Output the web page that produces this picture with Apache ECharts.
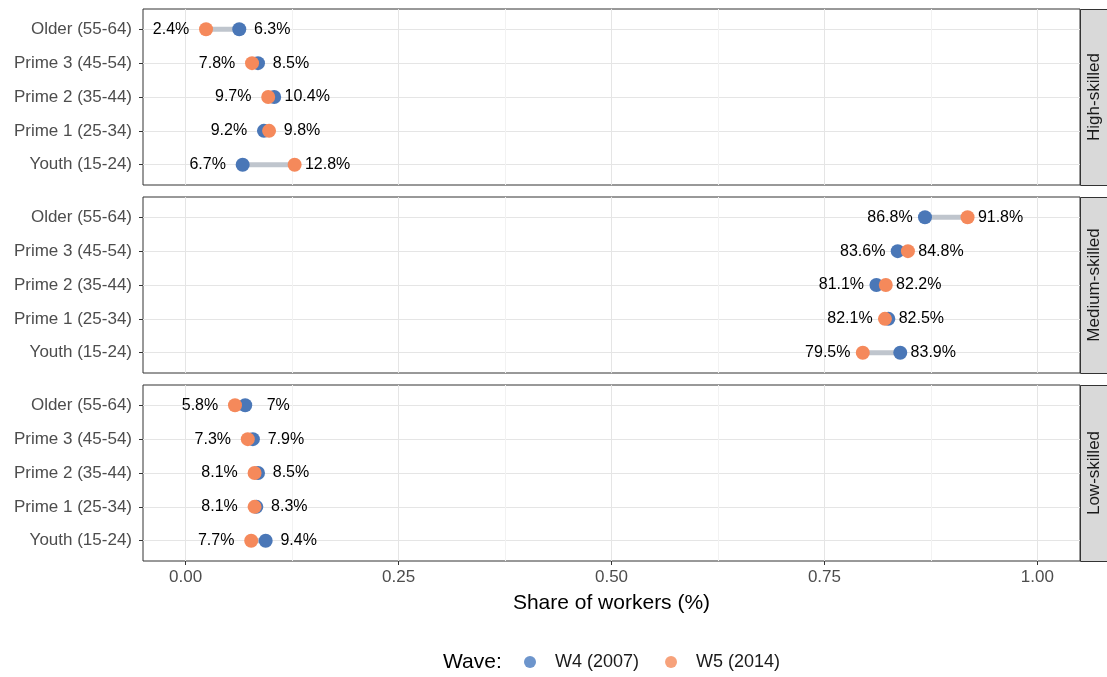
<!DOCTYPE html>
<html>
<head>
<meta charset="utf-8">
<script src="https://cdn.jsdelivr.net/npm/echarts@6/dist/echarts.min.js"></script>
<style>
  html, body { margin: 0; padding: 0; background: #fff; }
  #chart { width: 1107px; height: 677px; }
</style>
</head>
<body>
<div id="chart"></div>
<script>
// ---------- data ----------
const categories = ['Youth (15-24)', 'Prime 1 (25-34)', 'Prime 2 (35-44)', 'Prime 3 (45-54)', 'Older (55-64)'];
const skills = ['High-skilled', 'Medium-skilled', 'Low-skilled'];
const waveNames = ['W4 (2007)', 'W5 (2014)'];
const w4High = [0.067, 0.092, 0.104, 0.085, 0.063];
const w5High = [0.128, 0.098, 0.097, 0.078, 0.024];
const w4Medium = [0.839, 0.825, 0.811, 0.836, 0.868];
const w5Medium = [0.795, 0.821, 0.822, 0.848, 0.918];
const w4Low = [0.094, 0.083, 0.085, 0.079, 0.070];
const w5Low = [0.077, 0.081, 0.081, 0.073, 0.058];
const xTicks = [0, 0.25, 0.5, 0.75, 1];
const xMinorTicks = [0.125, 0.375, 0.625, 0.875];
const xTitle = 'Share of workers (%)';
const legendTitle = 'Wave:';

// ---------- layout / style ----------
const FONT = '"Liberation Sans", Arial, sans-serif';
const panelLeft = 143, panelWidth = 937, panelHeight = 176;
const panelTops = [9, 197, 385];
const stripWidth = 30;
const blue = '#4a77b7', orange = '#f5895b';
const blueLegend = '#6d95cc', orangeLegend = '#f7a27b';
const rowVals = categories.map((c, i) => i + 1);
const panelsW4 = [w4High, w4Medium, w4Low];
const panelsW5 = [w5High, w5Medium, w5Low];

function pct(v) { return (+(v * 100).toFixed(1)) + '%'; }

const grids = [], xAxes = [], yAxes = [], series = [], graphics = [];

skills.forEach((skill, p) => {
  const isBottom = p === skills.length - 1;
  grids.push({
    left: panelLeft, width: panelWidth, top: panelTops[p], height: panelHeight,
    show: true, backgroundColor: '#fff', borderColor: '#333333', borderWidth: 1, containLabel: false
  });
  // major x axis
  xAxes.push({
    gridIndex: p, type: 'value', min: -0.05, max: 1.05, position: 'bottom',
    axisLine: { show: false, onZero: false },
    axisTick: { show: isBottom, customValues: xTicks, length: 4, lineStyle: { color: '#333333' } },
    axisLabel: { show: isBottom, customValues: xTicks, margin: 8, color: '#4d4d4d', fontSize: 17, fontFamily: FONT,
      formatter: v => v.toFixed(2) },
    splitLine: { show: true, lineStyle: { color: '#e5e5e5', width: 1 } },
    name: isBottom ? xTitle : '', nameLocation: 'middle', nameGap: 32,
    nameTextStyle: { color: '#000', fontSize: 21, fontFamily: FONT }
  });
  // minor x axis (grid lines only)
  xAxes.push({
    gridIndex: p, type: 'value', min: -0.05, max: 1.05, position: 'top',
    axisLine: { show: false, onZero: false },
    axisTick: { show: false, customValues: xMinorTicks },
    axisLabel: { show: false, customValues: xMinorTicks },
    splitLine: { show: true, lineStyle: { color: '#f2f2f2', width: 1 } }
  });
  yAxes.push({
    gridIndex: p, type: 'value', min: 0.4, max: 5.6, position: 'left',
    axisLine: { show: false, onZero: false },
    axisTick: { show: true, customValues: rowVals, length: 4, lineStyle: { color: '#333333' } },
    axisLabel: { show: true, customValues: rowVals, margin: 11, color: '#4d4d4d', fontSize: 17, fontFamily: FONT,
      formatter: v => categories[Math.round(v) - 1] || '' },
    splitLine: { show: true, lineStyle: { color: '#e5e5e5', width: 1 } }
  });

  const w4 = panelsW4[p], w5 = panelsW5[p];
  const xi = p * 2;
  // connecting segments
  series.push({
    type: 'custom', xAxisIndex: xi, yAxisIndex: p, silent: true,
    encode: { x: [0, 1], y: 2 },
    data: categories.map((c, i) => [w4[i], w5[i], rowVals[i]]),
    renderItem: (params, api) => {
      const a = api.coord([api.value(0), api.value(2)]);
      const b = api.coord([api.value(1), api.value(2)]);
      return { type: 'line', shape: { x1: a[0], y1: a[1], x2: b[0], y2: b[1] },
        style: { stroke: '#bfc5cd', lineWidth: 5 } };
    }
  });
  const mk = (vals, other, color, name) => ({
    type: 'scatter', name, xAxisIndex: xi, yAxisIndex: p, symbol: 'circle', symbolSize: 14,
    itemStyle: { color, opacity: 1 }, silent: true,
    label: { show: true, position: 'inside', formatter: d => pct(d.value[0]),
      color: '#000', fontSize: 16, fontFamily: FONT, align: 'center', verticalAlign: 'middle' },
    data: vals.map((v, i) => ({
      value: [v, rowVals[i]],
      label: { offset: [v <= other[i] ? -35 : 33, 0] }
    }))
  });
  series.push(mk(w4, w5, blue, waveNames[0]));
  series.push(mk(w5, w4, orange, waveNames[1]));

  // facet strip
  graphics.push({
    type: 'rect', left: panelLeft + panelWidth, top: panelTops[p], z: 10,
    shape: { width: stripWidth, height: panelHeight },
    style: { fill: '#d9d9d9', stroke: '#333333', lineWidth: 1 }
  });
  graphics.push({
    type: 'text', x: panelLeft + panelWidth + 14, y: panelTops[p] + panelHeight / 2, rotation: Math.PI / 2, z: 11,
    style: { text: skill, x: 0, y: 0, align: 'center', verticalAlign: 'middle', fill: '#1a1a1a', fontSize: 17, fontFamily: FONT }
  });
});

graphics.push({
  type: 'text', left: 443, top: 652, z: 11,
  style: { text: legendTitle, fill: '#000', fontSize: 21, fontFamily: FONT }
});

const option = {
  animation: false,
  backgroundColor: '#fff',
  grid: grids,
  xAxis: xAxes,
  yAxis: yAxes,
  legend: {
    left: 524, top: 653, padding: 0, itemWidth: 12, itemHeight: 12, itemGap: 26, icon: 'circle',
    selectedMode: false,
    textStyle: { color: '#1a1a1a', fontSize: 18, fontFamily: FONT, padding: [0, 0, 0, 14] },
    data: [
      { name: waveNames[0], itemStyle: { color: blueLegend } },
      { name: waveNames[1], itemStyle: { color: orangeLegend } }
    ]
  },
  graphic: graphics,
  series: series
};

const chart = echarts.init(document.getElementById('chart'), null, { renderer: 'canvas' });
chart.setOption(option);
</script>
</body>
</html>
